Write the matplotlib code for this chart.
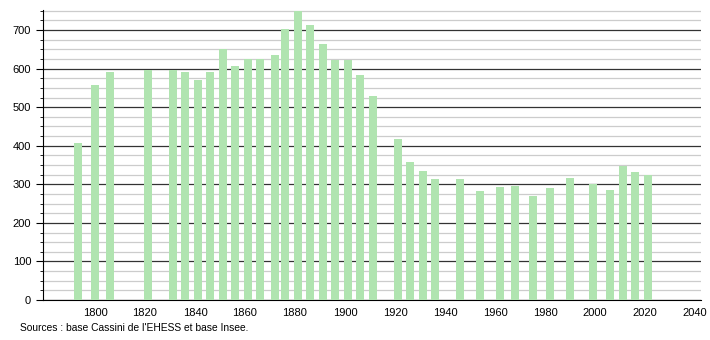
import matplotlib.pyplot as plt
from matplotlib.ticker import MultipleLocator

years = [1793, 1800, 1806, 1821, 1831, 1836, 1841, 1846, 1851, 1856,
         1861, 1866, 1872, 1876, 1881, 1886, 1891, 1896, 1901, 1906,
         1911, 1921, 1926, 1931, 1936, 1946, 1954, 1962, 1968, 1975,
         1982, 1990, 1999, 2006, 2011, 2016, 2021]
population = [407, 557, 592, 596, 596, 591, 570, 591, 650, 607,
              626, 626, 635, 702, 750, 713, 664, 622, 622, 583,
              529, 417, 358, 334, 314, 314, 283, 293, 296, 270,
              290, 316, 302, 285, 347, 332, 323]
source_text = "Sources : base Cassini de l'EHESS et base Insee."

plt.rcParams['font.family'] = ['Liberation Sans', 'DejaVu Sans']

fig = plt.figure(figsize=(7.1, 3.4), dpi=100)
ax = fig.add_axes([43 / 710, 40 / 340, 658 / 710, 290 / 340])

ax.bar(years, population, width=3.2, color='#b0e4b0', zorder=3)

ax.set_xlim(1779.2, 2042.4)
ax.set_ylim(0, 752)
ax.set_xticks(range(1800, 2041, 20))
ax.yaxis.set_minor_locator(MultipleLocator(25))
ax.set_yticks(range(0, 701, 100))

# dark lines every 100, light ones every 25
ax.grid(axis='y', which='major', color='#333333', linewidth=0.9, zorder=1)
ax.grid(axis='y', which='minor', color='#cccccc', linewidth=0.9, zorder=1)

for side in ['top', 'right']:
    ax.spines[side].set_visible(False)

ax.tick_params(axis='x', length=0, labelsize=8, pad=6)
ax.tick_params(axis='y', which='major', length=5, labelsize=8)
ax.tick_params(axis='y', which='minor', length=2.5)

fig.text(20 / 710, 1 - 328 / 340, source_text, fontsize=7.4, va='center', ha='left')

fig.savefig('out.png', dpi=100)
